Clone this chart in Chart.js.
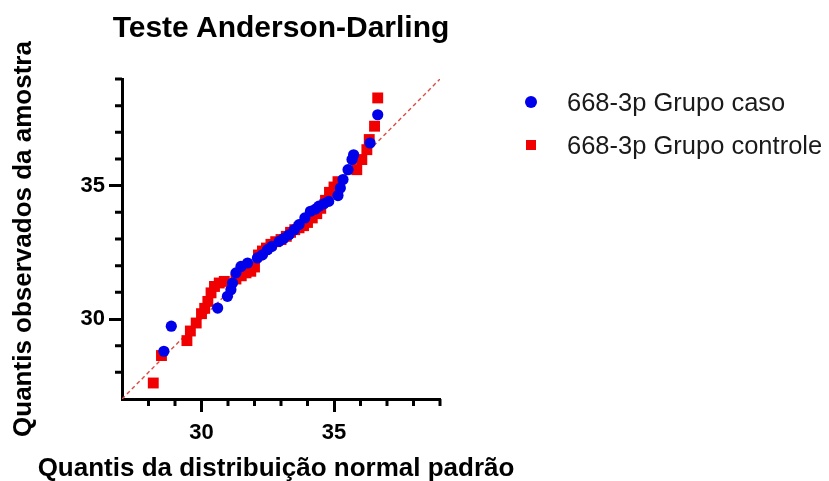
<!DOCTYPE html>
<html>
<head>
<meta charset="utf-8">
<script src="https://cdn.jsdelivr.net/npm/chart.js@4.4.0/dist/chart.umd.min.js"></script>
<style>
  html, body { margin: 0; padding: 0; background: #fff; }
  #wrap { position: relative; width: 829px; height: 481px; font-family: "Liberation Sans", Arial, sans-serif; }
  .txt { position: absolute; white-space: nowrap; text-align: center; color: #000; font-weight: bold; }
  #title { left: 0; width: 562px; top: 9px; font-size: 30px; line-height: 36px; }
  #xtitle { left: 0; width: 552px; top: 452px; font-size: 26px; line-height: 30px; }
  #legend { position: absolute; left: 0; top: 0; font-size: 25.5px; color: #1a1a1a; }
  .item { position: absolute; left: 567px; height: 36px; line-height: 36px; white-space: nowrap; }
  .mark { position: absolute; }
</style>
</head>
<body>
<div id="wrap">
  <canvas id="myChart" width="829" height="481"></canvas>
  <div class="txt" id="title"></div>
  <div class="txt" id="xtitle"></div>
  <div id="legend"></div>
</div>
<script>
// Quantis: x = distribuição normal padrão, y = observados da amostra
const casoX = [28.58, 28.86, 30.61, 30.98, 31.11, 31.17, 31.3, 31.49, 31.74, 32.11,
  32.3, 32.49, 32.65, 32.93, 33.1, 33.3, 33.5, 33.68, 33.9, 34.11,
  34.3, 34.43, 34.62, 34.8, 35.15, 35.24, 35.34, 35.53, 35.68, 35.74,
  36.36, 36.65];
const casoY = [28.79, 29.73, 30.41, 30.85, 31.1, 31.35, 31.73, 31.97, 32.1, 32.29,
  32.41, 32.6, 32.72, 32.91, 33.02, 33.16, 33.35, 33.54, 33.79, 34.04,
  34.12, 34.23, 34.32, 34.41, 34.63, 34.91, 35.23, 35.6, 35.98, 36.16,
  36.6, 37.66];

const controleX = [28.18, 28.49, 29.45, 29.58, 29.8, 30.0, 30.12, 30.24, 30.36, 30.49,
  30.67, 30.86, 31.3, 31.5, 31.68, 31.86, 32.0, 32.15, 32.3, 32.45,
  32.62, 32.8, 33.0, 33.2, 33.36, 33.52, 33.68, 33.85, 34.0, 34.18,
  34.35, 34.5, 34.68, 34.83, 35.0, 35.15, 35.86, 36.05, 36.24, 36.33,
  36.53, 36.65];
const controleY = [27.6, 28.63, 29.19, 29.55, 29.85, 30.2, 30.4, 30.66, 30.98, 31.22,
  31.35, 31.41, 31.5, 31.62, 31.73, 31.79, 31.95, 32.4, 32.55, 32.66,
  32.8, 32.9, 32.98, 33.1, 33.25, 33.35, 33.42, 33.5, 33.62, 33.79,
  33.95, 34.15, 34.45, 34.75, 34.95, 35.15, 35.6, 35.98, 36.35, 36.73,
  37.23, 38.29];

const refLine = [27, 39];      // linha y = x
const axisRange = [27, 39];
const majorTicks = [30, 35];
const seriesNames = ['668-3p Grupo caso', '668-3p Grupo controle'];
const titles = {
  main: 'Teste Anderson-Darling',
  x: 'Quantis da distribuição normal padrão',
  y: 'Quantis observados da amostra'
};

const BLUE = 'rgb(0,0,235)';
const RED = 'rgb(240,0,0)';
const FONT = "'Liberation Sans', Arial, Helvetica, sans-serif";

const toPoints = (xs, ys) => xs.map((x, i) => ({ x: x, y: ys[i] }));

// small ticks between the labelled ones
const minorTicks = {
  id: 'minorTicks',
  afterDraw(chart) {
    const ctx = chart.ctx;
    const xs = chart.scales.x, ys = chart.scales.y;
    ctx.save();
    ctx.strokeStyle = '#000';
    ctx.lineWidth = 3;
    ctx.beginPath();
    for (let v = axisRange[0] + 1; v <= axisRange[1]; v++) {
      if (majorTicks.includes(v)) continue;
      const px = xs.getPixelForValue(v);
      ctx.moveTo(px, xs.top);
      ctx.lineTo(px, xs.top + 7);
      const py = ys.getPixelForValue(v);
      ctx.moveTo(ys.right, py);
      ctx.lineTo(ys.right - 7, py);
    }
    ctx.stroke();
    ctx.restore();
  }
};

const axisCommon = {
  type: 'linear',
  min: axisRange[0],
  max: axisRange[1],
  border: { color: '#000', width: 3 },
  grid: {
    drawOnChartArea: false,
    tickLength: 13,
    tickWidth: 3,
    tickColor: c => majorTicks.includes(c.tick.value) ? '#000' : 'rgba(0,0,0,0)'
  },
  ticks: {
    stepSize: 1,
    autoSkip: false,
    maxRotation: 0,
    padding: 4,
    color: '#000',
    font: { family: FONT, size: 22, weight: 'bold' },
    callback: v => majorTicks.includes(v) ? String(v) : ''
  }
};

const config = {
  type: 'scatter',
  data: {
    datasets: [
      {
        label: seriesNames[0],
        data: toPoints(casoX, casoY),
        pointStyle: 'circle',
        pointRadius: 5.6,
        pointHoverRadius: 5.6,
        pointBorderWidth: 0,
        backgroundColor: BLUE,
        order: 0
      },
      {
        label: seriesNames[1],
        data: toPoints(controleX, controleY),
        pointStyle: 'rect',
        pointRadius: 7.7,
        pointHoverRadius: 7.7,
        pointBorderWidth: 0,
        backgroundColor: RED,
        order: 1
      },
      {
        type: 'line',
        label: 'y = x',
        data: refLine.map(v => ({ x: v, y: v })),
        borderColor: '#de4a44',
        borderWidth: 1.4,
        borderDash: [4, 3],
        pointRadius: 0,
        fill: false,
        order: 2
      }
    ]
  },
  options: {
    responsive: false,
    animation: false,
    layout: { padding: { left: 0, right: 389, top: 79, bottom: 0 } },
    plugins: {
      legend: { display: false },
      tooltip: { enabled: false },
      title: { display: false }
    },
    scales: {
      x: Object.assign({}, axisCommon, {
        position: 'bottom',
        afterFit: s => { s.height = 82; },
        ticks: Object.assign({}, axisCommon.ticks, { padding: 8 })
      }),
      y: Object.assign({}, axisCommon, {
        position: 'left',
        afterFit: s => { s.width = 122; },
        title: {
          display: true,
          text: titles.y,
          color: '#000',
          font: { family: FONT, size: 26, weight: 'bold', lineHeight: 1 },
          padding: { top: 11, bottom: 0 }
        }
      })
    }
  },
  plugins: [minorTicks]
};

const myChart = new Chart(document.getElementById('myChart'), config);

document.getElementById('title').textContent = titles.main;
document.getElementById('xtitle').textContent = titles.x;

// legend, to the right of the plot
const legend = document.getElementById('legend');
const legendRows = [
  { name: seriesNames[0], color: BLUE, round: true, size: 12, cy: 102 },
  { name: seriesNames[1], color: RED, round: false, size: 10, cy: 145 }
];
legendRows.forEach(r => {
  const m = document.createElement('div');
  m.className = 'mark';
  m.style.left = (531 - r.size / 2) + 'px';
  m.style.top = (r.cy - r.size / 2) + 'px';
  m.style.width = r.size + 'px';
  m.style.height = r.size + 'px';
  m.style.background = r.color;
  if (r.round) m.style.borderRadius = '50%';
  legend.appendChild(m);
  const t = document.createElement('div');
  t.className = 'item';
  t.style.top = (r.cy - 18) + 'px';
  t.textContent = r.name;
  legend.appendChild(t);
});
</script>
</body>
</html>
